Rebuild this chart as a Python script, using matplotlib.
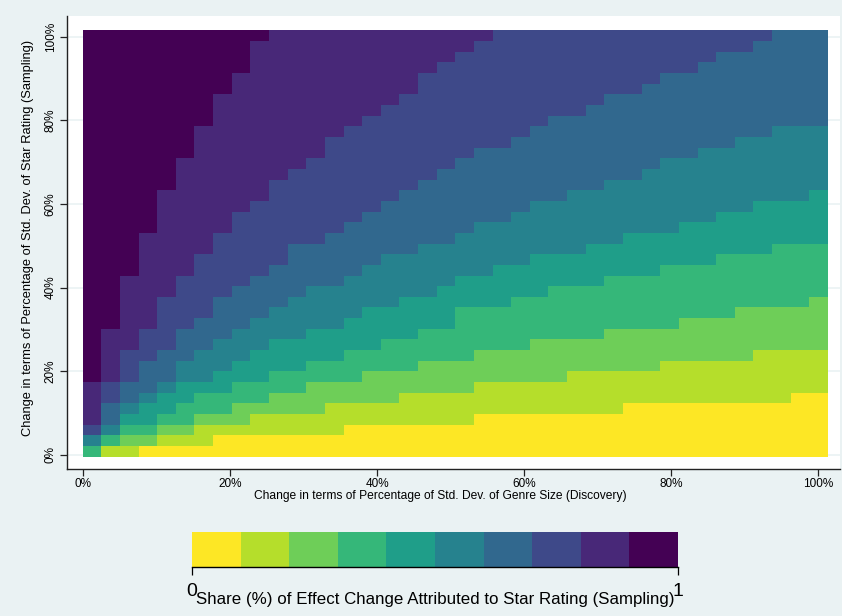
import numpy as np
import matplotlib
matplotlib.use("Agg")
import matplotlib.pyplot as plt
from matplotlib.colors import ListedColormap, BoundaryNorm
from matplotlib.ticker import NullLocator

plt.rcParams['font.family'] = ['Liberation Sans', 'DejaVu Sans']

# axis ticks (percent of std. dev.)
genre_ticks = [0, 20, 40, 60, 80, 100]
star_ticks = [0, 20, 40, 60, 80, 100]
tick_labels = ['0%', '20%', '40%', '60%', '80%', '100%']

# share band of each cell: 0 = share 0-0.1 ... 9 = share 0.9-1
# one list per row (bottom row first), (band, number of columns) runs, 40 columns each
share_band_runs = [
    [(3, 1), (1, 2), (0, 37)],
    [(5, 1), (3, 1), (2, 2), (1, 3), (0, 33)],
    [(7, 1), (5, 1), (3, 2), (2, 2), (1, 8), (0, 26)],
    [(8, 1), (6, 1), (4, 2), (3, 2), (2, 3), (1, 12), (0, 19)],
    [(8, 1), (6, 1), (5, 1), (4, 2), (3, 3), (2, 5), (1, 16), (0, 11)],
    [(8, 1), (7, 1), (6, 1), (5, 1), (4, 2), (3, 4), (2, 7), (1, 21), (0, 2)],
    [(8, 1), (7, 1), (6, 2), (5, 1), (4, 3), (3, 4), (2, 9), (1, 19)],
    [(9, 1), (8, 1), (7, 1), (6, 2), (5, 2), (4, 3), (3, 5), (2, 11), (1, 14)],
    [(9, 1), (8, 1), (7, 1), (6, 2), (5, 3), (4, 4), (3, 6), (2, 13), (1, 9)],
    [(9, 1), (8, 1), (7, 2), (6, 2), (5, 3), (4, 5), (3, 7), (2, 15), (1, 4)],
    [(9, 1), (8, 2), (7, 2), (6, 2), (5, 3), (4, 6), (3, 8), (2, 16)],
    [(9, 1), (8, 2), (7, 2), (6, 3), (5, 4), (4, 6), (3, 10), (2, 12)],
    [(9, 2), (8, 2), (7, 2), (6, 3), (5, 5), (4, 6), (3, 12), (2, 8)],
    [(9, 2), (8, 2), (7, 3), (6, 3), (5, 5), (4, 5), (3, 15), (2, 5)],
    [(9, 2), (8, 2), (7, 3), (6, 4), (5, 6), (4, 6), (3, 16), (2, 1)],
    [(9, 2), (8, 3), (7, 3), (6, 4), (5, 7), (4, 6), (3, 15)],
    [(9, 2), (8, 3), (7, 4), (6, 5), (5, 6), (4, 8), (3, 12)],
    [(9, 3), (8, 3), (7, 4), (6, 5), (5, 7), (4, 9), (3, 9)],
    [(9, 3), (8, 3), (7, 5), (6, 5), (5, 8), (4, 10), (3, 6)],
    [(9, 3), (8, 4), (7, 4), (6, 7), (5, 9), (4, 10), (3, 3)],
    [(9, 3), (8, 4), (7, 6), (6, 7), (5, 9), (4, 11)],
    [(9, 4), (8, 4), (7, 6), (6, 7), (5, 11), (4, 8)],
    [(9, 4), (8, 4), (7, 7), (6, 8), (5, 11), (4, 6)],
    [(9, 4), (8, 5), (7, 7), (6, 8), (5, 12), (4, 4)],
    [(9, 4), (8, 6), (7, 7), (6, 9), (5, 13), (4, 1)],
    [(9, 5), (8, 5), (7, 8), (6, 10), (5, 12)],
    [(9, 5), (8, 6), (7, 8), (6, 11), (5, 10)],
    [(9, 5), (8, 7), (7, 8), (6, 11), (5, 9)],
    [(9, 6), (8, 7), (7, 8), (6, 12), (5, 7)],
    [(9, 6), (8, 7), (7, 10), (6, 12), (5, 5)],
    [(9, 6), (8, 8), (7, 10), (6, 13), (5, 3)],
    [(9, 7), (8, 8), (7, 10), (6, 15)],
    [(9, 7), (8, 9), (7, 11), (6, 13)],
    [(9, 7), (8, 10), (7, 11), (6, 12)],
    [(9, 8), (8, 10), (7, 12), (6, 10)],
    [(9, 8), (8, 10), (7, 13), (6, 9)],
    [(9, 9), (8, 10), (7, 14), (6, 7)],
    [(9, 9), (8, 11), (7, 14), (6, 6)],
    [(9, 9), (8, 12), (7, 15), (6, 4)],
    [(9, 10), (8, 12), (7, 15), (6, 3)],
]

band_grid = np.array([np.repeat([b for b, n in row], [n for b, n in row])
                      for row in share_band_runs])
share_grid = (band_grid + 0.5) / 10

# cell edges in axis units
x_edges = np.linspace(-0.07, 101.36, band_grid.shape[1] + 1)
y_edges = np.linspace(-0.4, 101.5, band_grid.shape[0] + 1)

bg = '#eaf2f3'
colors = plt.cm.viridis(np.linspace(1, 0, 10))
cmap = ListedColormap(colors)
norm = BoundaryNorm(np.linspace(0, 1, 11), cmap.N)

fig = plt.figure(figsize=(8.42, 6.16), dpi=100, facecolor=bg)
W, H = 842, 616
ax = fig.add_axes([67 / W, 1 - 469 / H, (840 - 67) / W, (469 - 16) / H])
ax.set_facecolor('white')

mesh = ax.pcolormesh(x_edges, y_edges, share_grid, cmap=cmap, norm=norm,
                     shading='flat', linewidth=0, antialiased=False, zorder=2)

ax.set_xlim(-2.2, 103.0)
ax.set_ylim(-3.35, 104.95)
ax.set_xticks(genre_ticks)
ax.set_xticklabels(tick_labels)
ax.set_yticks(star_ticks)
ax.set_yticklabels(tick_labels, rotation=90, va='center')
ax.yaxis.grid(True, color=bg, lw=1.2, zorder=0)
ax.set_axisbelow(True)

for s in ['top', 'right']:
    ax.spines[s].set_visible(False)
for s in ['left', 'bottom']:
    ax.spines[s].set_color('#222222')
    ax.spines[s].set_linewidth(1.0)
ax.tick_params(axis='both', direction='out', length=5, width=0.9,
               colors='#222222', labelsize=8.5, labelcolor='black')
ax.tick_params(axis='x', pad=1.5)
ax.tick_params(axis='y', pad=2.5)

ax.set_xlabel('Change in terms of Percentage of Std. Dev. of Genre Size (Discovery)',
              fontsize=8.65)
ax.xaxis.set_label_coords(0.4825, -0.046)
ax.set_ylabel('Change in terms of Percentage of Std. Dev. of Star Rating (Sampling)',
              fontsize=9.3)
ax.yaxis.set_label_coords(-0.043, 0.51)

# legend bar
cax = fig.add_axes([192 / W, 1 - 567 / H, (678 - 192) / W, (567 - 532) / H])
cb = fig.colorbar(mesh, cax=cax, orientation='horizontal')
cb.outline.set_visible(False)
cb.set_ticks([0, 1])
cb.set_ticklabels(['0', '1'])
cax.xaxis.set_minor_locator(NullLocator())
cax.tick_params(axis='x', which='minor', length=0)
cax.tick_params(axis='x', which='major', length=6, width=0.9, pad=5.5,
                labelsize=14, colors='black')
cax.plot([0, 1], [0, 0], transform=cax.transAxes, color='black', lw=1, clip_on=False)
cax.set_xlabel('Share (%) of Effect Change Attributed to Star Rating (Sampling)',
               fontsize=12.2)
cax.xaxis.set_label_coords(0.5, -0.72)

fig.savefig('out.png', dpi=100, facecolor=bg)
